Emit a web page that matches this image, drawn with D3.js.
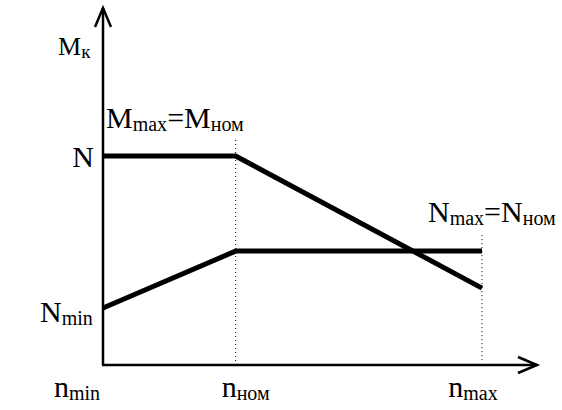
<!DOCTYPE html>
<html>
<head>
<meta charset="utf-8">
<script src="https://cdn.jsdelivr.net/npm/d3@7"></script>
<style>
  html, body { margin: 0; padding: 0; background: #fff; }
</style>
</head>
<body>
<svg id="chart" width="562" height="410"></svg>
<script>
// ---- data ----
const nPositions = [0, 35, 100];             // n_min, n_ном, n_max (relative speed)
const xTickMain = ["n", "n", "n"];
const xTickSub = ["min", "ном", "max"];
const torqueM = [100, 100, 36.8];           // M_к curve
const powerN = [27.3, 54.5, 54.5];          // N curve
const yLabelMain = ["N", "N"];
const yLabelSub = ["", "min"];
const yLabelValues = [100, 27.3];

// ---- layout ----
const FONT = "Liberation Serif";
const svg = d3.select("#chart");
const x = d3.scaleLinear().domain([0, 100]).range([103, 482]);
const y = d3.scaleLinear().domain([0, 100]).range([365, 156]);
const xAxisEnd = 537, yAxisTop = 8;

function newText(xPos, yPos, size, anchor) {
  return svg.append("text").attr("x", xPos).attr("y", yPos)
    .attr("text-anchor", anchor || "start")
    .attr("font-family", FONT).attr("font-size", size).attr("fill", "#000");
}
function subText(xPos, yPos, main, sub, size, subSize, anchor) {
  const t = newText(xPos, yPos, size, anchor);
  t.append("tspan").text(main);
  if (sub) t.append("tspan").attr("dy", 3).attr("font-size", subSize).text(sub);
  return t;
}

// dotted guides
svg.append("line").attr("x1", x(nPositions[1])).attr("x2", x(nPositions[1]))
  .attr("y1", y(100) - 16).attr("y2", y(0) - 2)
  .attr("stroke", "#000").attr("stroke-width", 1).attr("stroke-dasharray", "1,3");
svg.append("line").attr("x1", x(nPositions[2])).attr("x2", x(nPositions[2]))
  .attr("y1", y(powerN[2]) - 16).attr("y2", y(0) - 2)
  .attr("stroke", "#000").attr("stroke-width", 1).attr("stroke-dasharray", "1,3");

// axes
svg.append("line").attr("x1", x(0)).attr("x2", x(0)).attr("y1", y(0)).attr("y2", yAxisTop)
  .attr("stroke", "#000").attr("stroke-width", 2.5);
svg.append("line").attr("x1", x(0) - 1).attr("x2", xAxisEnd).attr("y1", y(0)).attr("y2", y(0))
  .attr("stroke", "#000").attr("stroke-width", 2.5);
svg.append("path").attr("d", `M${x(0) - 8},${yAxisTop + 19} L${x(0)},${yAxisTop} L${x(0) + 8},${yAxisTop + 19}`)
  .attr("fill", "none").attr("stroke", "#000").attr("stroke-width", 2.5);
svg.append("path").attr("d", `M${xAxisEnd - 19},${y(0) - 8} L${xAxisEnd},${y(0)} L${xAxisEnd - 19},${y(0) + 8}`)
  .attr("fill", "none").attr("stroke", "#000").attr("stroke-width", 2.5);

// curves
const line = d3.line().x((d, i) => x(nPositions[i])).y(d => y(d));
svg.append("path").datum(torqueM).attr("d", line)
  .attr("fill", "none").attr("stroke", "#000").attr("stroke-width", 5);
svg.append("path").datum(powerN).attr("d", line)
  .attr("fill", "none").attr("stroke", "#000").attr("stroke-width", 5);

// x tick labels
const xOff = [-26, 10, -9];
xTickMain.forEach((m, i) => {
  subText(x(nPositions[i]) + xOff[i], 397, m, xTickSub[i], 30, 20, "middle");
});

// y labels
subText(x(0) - 9, y(yLabelValues[0]) + 11, yLabelMain[0], yLabelSub[0], 30, 20, "end");
subText(40, y(yLabelValues[1]) + 14, yLabelMain[1], yLabelSub[1], 30, 20, "start");

// axis title
subText(58, 55, "M", "к", 26, 19, "start");

// annotations
const a1 = newText(106, 128, 30);
a1.append("tspan").text("M");
a1.append("tspan").attr("dy", 3).attr("font-size", 20).text("max");
a1.append("tspan").attr("dy", -3).text("=M");
a1.append("tspan").attr("dy", 3).attr("font-size", 20).text("ном");

const a2 = newText(428, 222, 30);
a2.append("tspan").text("N");
a2.append("tspan").attr("dy", 3).attr("font-size", 20).text("max");
a2.append("tspan").attr("dy", -3).text("=N");
a2.append("tspan").attr("dy", 3).attr("font-size", 20).text("ном");
</script>
</body>
</html>
